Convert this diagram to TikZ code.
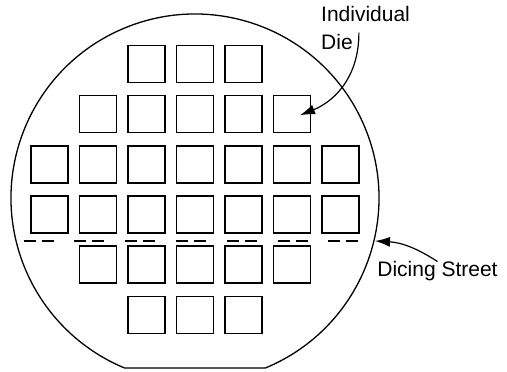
\documentclass[tikz,border=0pt]{standalone}
\usepackage{fontspec}
\setsansfont{Liberation Sans}
\usetikzlibrary{arrows.meta}

\tikzset{
  die/.style={draw, line width=1.6pt, minimum size=37pt, inner sep=0pt},
  lbl/.style={font=\sffamily\fontsize{21}{27}\selectfont, inner sep=0pt},
  pointer/.style={-{Latex[length=15pt,width=10pt]}, line width=1.2pt}
}

\begin{document}
\begin{tikzpicture}[x=1pt,y=1pt]
  \useasboundingbox (0,0) rectangle (507,372);
  % wafer with its flat
  \draw[line width=1.3pt] (124.6,4) -- (265.4,4)
    arc[start angle=-67.5, end angle=247.5, radius=184] -- cycle;
  % dies, row by row
  \foreach \r/\first/\last in {1/3/5,2/2/6,3/1/7,4/1/7,5/2/6,6/3/5}
    \foreach \c in {\first,...,\last}
      \node[die] (d\r\c) at ({49.5+48.5*(\c-1)},{308-50.2*(\r-1)}) {};
  \draw[line width=1.3pt, dash pattern=on 12pt off 6pt on 12pt off 20.8pt]
    (23.5,131) -- (362,131);
  \node[lbl, anchor=base west] (indiv) at (321,350) {Individual};
  \node[lbl, anchor=base west] (dielbl) at (321,322) {Die};
  \node[lbl, anchor=base] (street) at (437.5,95) {Dicing Street};
  \coordinate (edge) at (375,131);
  \draw[pointer] ([xshift=6pt,yshift=2pt]dielbl.north east)
    .. controls +(0,-49) and +(30,12) .. ([xshift=8pt,yshift=-1pt]d26.center);
  \draw[pointer] (street.north) to[bend right=15] (edge);
\end{tikzpicture}
\end{document}
